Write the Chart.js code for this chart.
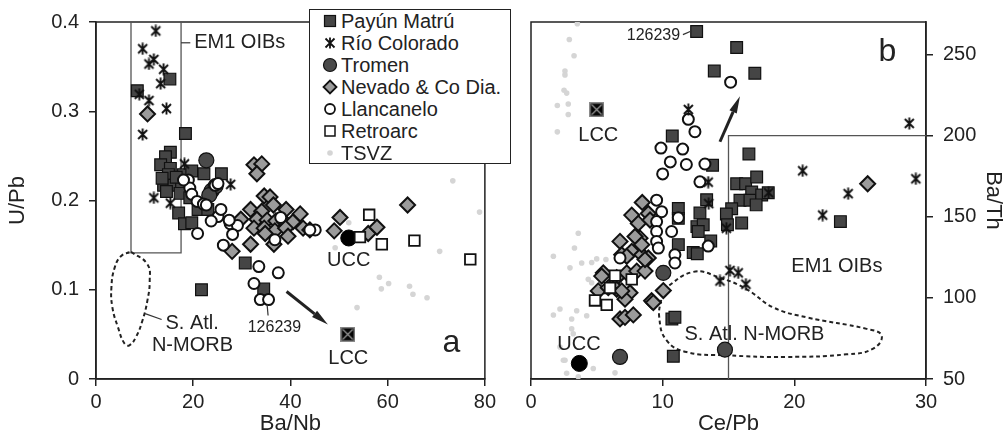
<!DOCTYPE html>
<html>
<head>
<meta charset="utf-8">
<script src="https://cdn.jsdelivr.net/npm/chart.js@4.4.0/dist/chart.umd.min.js"></script>
<style>
  body { margin: 0; background: #fff; width: 1006px; height: 443px; overflow: hidden; position: relative;
         font-family: 'Liberation Sans', Arial, Helvetica, sans-serif; color: #222; }
  #chartA { position: absolute; left: 0; top: 0; }
  #chartB { position: absolute; left: 500px; top: 0; }
  #legend { position: absolute; left: 309px; top: 9px; width: 200px; height: 153px;
            border: 1.5px solid #222; background: #fff; }
  #legend .row { display: flex; align-items: center; height: 22px; font-size: 20px; padding-left: 12px; }
  #legend svg { width: 16px; height: 16px; margin-right: 3px; flex: none; }
</style>
</head>
<body>
<canvas id="chartA" width="500" height="443"></canvas>
<canvas id="chartB" width="506" height="443"></canvas>
<div id="legend">
  <div class="row"><svg viewBox="0 0 16 16"><rect x="2.5" y="2.5" width="11" height="11" fill="#454545" stroke="#111" stroke-width="1.2"/></svg>Payún Matrú</div>
  <div class="row"><svg viewBox="0 0 16 16"><path d="M3.5 3.5L12.5 12.5M12.5 3.5L3.5 12.5M8 2.5L8 13.5" stroke="#111" stroke-width="1.8"/></svg>Río Colorado</div>
  <div class="row"><svg viewBox="0 0 16 16"><circle cx="8" cy="8" r="6.5" fill="#4a4a4a" stroke="#111" stroke-width="1.2"/></svg>Tromen</div>
  <div class="row"><svg viewBox="0 0 16 16"><path d="M8 1.5L14.5 8L8 14.5L1.5 8Z" fill="#9b9b9b" stroke="#111" stroke-width="1.8"/></svg>Nevado &amp; Co Dia.</div>
  <div class="row"><svg viewBox="0 0 16 16"><circle cx="8" cy="8" r="5" fill="#fff" stroke="#111" stroke-width="1.8"/></svg>Llancanelo</div>
  <div class="row"><svg viewBox="0 0 16 16"><rect x="3" y="3" width="10" height="10" fill="#fff" stroke="#111" stroke-width="1.5"/></svg>Retroarc</div>
  <div class="row"><svg viewBox="0 0 16 16"><circle cx="8" cy="8" r="2.8" fill="#d5d5d5"/></svg>TSVZ</div>
</div>
<script>
const FONT = "'Liberation Sans', Arial, Helvetica, sans-serif";
Chart.defaults.font.family = FONT;
Chart.defaults.color = '#222';

// ---- panel a: Ba/Nb (x) vs U/Pb (y)
const payunA = [[8.5,0.323],[15.2,0.336],[18.4,0.275],[15.3,0.254],[14.3,0.249],[13.3,0.240],[15.3,0.236],
  [14.9,0.229],[18.0,0.229],[19.7,0.233],[13.9,0.217],[16.0,0.217],[17.6,0.217],[22.2,0.230],[25.8,0.230],
  [13.6,0.225],[17.3,0.208],[19.3,0.203],[21.0,0.190],[23.0,0.190],[17.0,0.186],[18.2,0.174],[19.7,0.175],
  [14.5,0.210],[16.5,0.226],[30.7,0.130],[34.5,0.101],[21.7,0.100]];
const rioA = [[12.3,0.390],[9.6,0.370],[11.9,0.358],[10.9,0.353],[13.9,0.347],[13.3,0.331],[8.9,0.319],
  [10.9,0.312],[14.5,0.303],[9.6,0.274],[18.2,0.241],[27.7,0.218],[11.9,0.203],[15.3,0.197]];
const tromenA = [[22.7,0.245],[23.8,0.211],[24.6,0.216],[23.3,0.206]];
const nevadoA = [[10.6,0.297],[32.5,0.240],[34.1,0.241],[33.1,0.230],[34.6,0.205],[35.8,0.204],[31.8,0.190],
  [34.1,0.188],[36.5,0.195],[39.1,0.190],[42.0,0.185],[33.1,0.179],[35.2,0.178],[37.0,0.177],[38.8,0.176],
  [40.5,0.176],[32.5,0.169],[34.6,0.169],[36.8,0.166],[39.0,0.169],[42.6,0.169],[34.8,0.163],[39.5,0.160],
  [31.8,0.151],[36.6,0.151],[28.0,0.143],[29.8,0.179],[50.2,0.181],[49.0,0.166],[56.0,0.163],[57.8,0.170],
  [64.1,0.195],[44.0,0.167]];
const llancaA = [[19.0,0.223],[19.3,0.214],[19.7,0.207],[20.8,0.199],[22.1,0.196],[24.5,0.217],[25.1,0.219],
  [25.1,0.182],[23.7,0.177],[25.7,0.190],[27.6,0.174],[29.1,0.172],[28.1,0.162],[20.9,0.163],[26.2,0.150],
  [33.5,0.126],[32.5,0.107],[37.5,0.119],[33.8,0.089],[35.5,0.089],[38.0,0.181],[36.8,0.156],[45.1,0.167],
  [44.0,0.167],[18.0,0.223],[22.7,0.195],[27.4,0.178]];
const retroA = [[56.2,0.184],[54.3,0.159],[58.8,0.151],[65.5,0.155],[77.0,0.134]];
const tsvzA = [[73.4,0.222],[78.9,0.187],[70.7,0.143],[58.3,0.114],[60.2,0.107],[58.7,0.101],[64.5,0.104],
  [65.2,0.095],[68.1,0.091],[53.7,0.080],[52.0,0.175],[49.2,0.147]];
const uccA = [52.0, 0.158];
const lccA = [51.8, 0.050];
const em1BoxA = [[7.2,0.4],[7.2,0.1414],[17.5,0.1414],[17.5,0.4]];
const morbA = [[7.21,0.1426],[10.57,0.1286],[11.05,0.110],[10.57,0.0878],[9.56,0.0656],[8.22,0.047],
  [6.87,0.0378],[5.86,0.0397],[4.51,0.0581],[3.37,0.0803],[3.17,0.1026],[3.84,0.1248],[5.19,0.1378],[7.21,0.1426]];

// ---- panel b: Ce/Pb (x) vs Ba/Th (y)
const payunB = [[12.58,264.2],[15.62,254.3],[13.92,239.8],[17.0,238.4],[10.73,199.8],[13.79,181.7],[16.55,188.6],
  [15.62,170.3],[16.3,170.3],[17.14,174.5],[16.76,165.3],[15.87,160.2],[16.63,160.2],[17.52,163.4],[17.1,157.3],
  [15.24,154.9],[14.84,151.7],[14.92,145.0],[16.0,146.1],[23.5,147.0],[13.34,160.5],[12.83,152.3],[11.19,155.1],
  [11.19,149.0],[12.6,143.9],[13.08,145.0],[11.19,132.8],[13.65,135.0],[12.32,128.0],[12.63,127.2],[12.7,140.9],
  [10.7,87.0],[10.93,88.0],[10.81,64.0],[18.02,164.8]];
const rioB = [[11.95,216.1],[28.73,207.5],[20.63,178.3],[29.23,173.4],[24.09,164.2],[22.15,151.0],[18.05,164.8],
  [13.46,171.3],[13.5,158.1],[14.84,142.9],[14.35,110.4],[15.11,116.9],[15.74,115.4],[16.32,108.4]];
const tromenB = [[10.05,115.4],[6.76,63.6],[14.73,68.1]];
const nevadoB = [[8.45,158.8],[7.65,151.0],[8.15,145.9],[8.28,136.8],[6.76,134.8],[8.91,152.0],[9.04,148.0],
  [7.65,128.7],[8.41,126.6],[8.91,124.6],[6.89,126.6],[7.27,125.6],[5.49,115.4],[6.51,112.4],[7.27,115.4],
  [8.03,116.5],[8.66,116.5],[5.11,104.3],[6.51,105.3],[7.52,103.2],[7.14,99.2],[5.87,106.3],[9.16,98.2],
  [9.29,97.1],[10.05,104.5],[6.76,87.0],[7.14,88.0],[7.77,89.5],[7.90,137.8],[8.41,132.8],[8.66,123.6],
  [25.57,170.3],[5.37,113.4],[6.89,104.3]];
const llancaB = [[15.16,232.9],[11.95,210.0],[12.45,202.4],[9.87,192.3],[11.52,191.7],[10.58,183.8],[11.8,182.2],
  [13.21,182.5],[10.0,176.4],[12.83,171.5],[9.54,160.2],[9.92,153.1],[9.54,147.0],[9.54,140.9],[9.54,134.8],
  [9.67,130.7],[10.68,140.9],[11.19,149.4],[10.93,126.6],[10.93,121.5],[13.46,131.9],[6.76,124.6]];
const retroB = [[4.86,98.4],[5.75,95.7],[6.0,106.1],[6.38,113.7],[7.65,111.4]];
const tsvzB = [[3.52,268.9],[2.91,259.2],[3.27,249.2],[2.58,239.8],[2.58,237.4],[2.51,227.9],[2.71,226.2],
  [2.0,218.5],[2.83,219.5],[2.83,213.0],[2.0,202.3],[3.59,139.8],[3.3,130.7],[1.70,125.6],[2.96,118.5],
  [3.85,121.5],[4.61,121.8],[4.99,124.0],[5.69,123.6],[4.35,111.4],[4.61,109.3],[2.2,93.1],[3.47,92.1],
  [1.7,89.4],[3.09,87.0],[4.23,89.0],[3.09,80.9],[3.21,77.9],[2.2,69.7],[2.46,61.6],[2.71,53.5],[3.59,51.4],
  [6.38,53.8],[4.73,56.5],[2.58,61.6]];
const uccB = [3.67, 59.6];
const lccB = [4.99, 216.0];
const em1BoxB = [[15,50],[15,200],[30,200]];
const morbB = [[10.05,105.3],[12.32,116.0],[14.35,112.4],[16.38,105.3],[18.4,94.1],[20.93,88.0],[25.49,80.9],
  [26.63,76.8],[25.99,68.7],[23.97,65.2],[19.42,63.6],[14.86,64.6],[11.82,66.6],[10.3,73.8],[9.74,88.0],
  [9.92,100.2],[10.05,105.3]];

const pts = a => a.map(([x, y]) => ({x, y}));

// custom markers
function makeStar() {
  const c = document.createElement('canvas');
  c.width = c.height = 13;
  const g = c.getContext('2d');
  g.strokeStyle = '#111'; g.lineWidth = 1.9;
  g.beginPath();
  g.moveTo(2, 2); g.lineTo(11, 11);
  g.moveTo(11, 2); g.lineTo(2, 11);
  g.moveTo(6.5, 0.5); g.lineTo(6.5, 12.5);
  g.stroke();
  return c;
}
function makeLcc() {
  const c = document.createElement('canvas');
  c.width = c.height = 15;
  const g = c.getContext('2d');
  g.fillStyle = '#8a8a8a'; g.fillRect(0, 0, 15, 15);
  g.fillStyle = '#050505'; g.fillRect(1.5, 1.5, 12, 12);
  g.strokeStyle = '#9a9a9a'; g.lineWidth = 1.2;
  g.beginPath(); g.moveTo(2.5, 2.5); g.lineTo(12.5, 12.5); g.moveTo(12.5, 2.5); g.lineTo(2.5, 12.5); g.stroke();
  return c;
}
const star = makeStar();
const lccMark = makeLcc();

function markerSets(d) {
  return [
    {label: 'Río Colorado', data: pts(d.rio), pointStyle: star, pointRadius: 7},
    {label: 'LCC', data: pts([d.lcc]), pointStyle: lccMark, pointRadius: 8},
    {label: 'Retroarc', data: pts(d.retro), pointStyle: 'rect', pointRadius: 7.5,
     backgroundColor: '#fff', borderColor: '#111', borderWidth: 1.8},
    {label: 'Llancanelo', data: pts(d.llanca), pointStyle: 'circle', pointRadius: 5.5,
     backgroundColor: '#fff', borderColor: '#111', borderWidth: 2},
    {label: 'Tromen', data: pts(d.tromen), pointStyle: 'circle', pointRadius: 7.5,
     backgroundColor: '#4a4a4a', borderColor: '#111', borderWidth: 1.2},
    {label: 'UCC', data: pts([d.ucc]), pointStyle: 'circle', pointRadius: 8,
     backgroundColor: '#000', borderColor: '#000', borderWidth: 1},
    {label: 'Payún Matrú', data: pts(d.payun), pointStyle: 'rect', pointRadius: 8.3,
     backgroundColor: '#454545', borderColor: '#111', borderWidth: 1.2},
    {label: 'Nevado & Co Dia.', data: pts(d.nevado), pointStyle: 'rectRot', pointRadius: 7.5,
     backgroundColor: '#9b9b9b', borderColor: '#111', borderWidth: 2},
    {label: 'TSVZ', data: pts(d.tsvz), pointStyle: 'circle', pointRadius: 2.8,
     backgroundColor: '#d5d5d5', borderWidth: 0},
    {label: 'S. Atl. N-MORB', data: pts(d.morb), showLine: true, pointRadius: 0, tension: 0.45,
     borderColor: '#222', borderWidth: 2, borderDash: [4, 3]},
    {label: 'EM1 OIBs', data: pts(d.box), showLine: true, pointRadius: 0, tension: 0,
     borderColor: '#555', borderWidth: 1.3}
  ];
}

function axis(o) {
  const horiz = o.position === 'bottom';
  return {
    type: 'linear', position: o.position, min: o.min, max: o.max,
    afterFit: s => { if (horiz) s.height = o.size; else s.width = o.size; },
    ticks: {stepSize: o.step, includeBounds: false, font: {size: 20}, color: '#222',
            padding: horiz ? 4 : 10, maxRotation: 0},
    grid: {drawOnChartArea: false, drawTicks: true, tickLength: 7, color: '#222', lineWidth: 1.5},
    border: {display: true, color: '#222', width: 1.5},
    title: {display: true, text: o.title, font: {size: 22}, color: '#222', padding: o.titlePad}
  };
}

function notesPlugin(n) {
  return {
    id: 'notes',
    beforeDatasetsDraw(chart) {
      const {ctx, chartArea: a} = chart;
      ctx.save();
      ctx.strokeStyle = '#222'; ctx.lineWidth = 1.5;
      ctx.strokeRect(a.left, a.top, a.right - a.left, a.bottom - a.top);
      ctx.restore();
    },
    afterDatasetsDraw(chart) {
      const {ctx, scales: {x, y}} = chart;
      const X = v => x.getPixelForValue(v), Y = v => y.getPixelForValue(v);
      ctx.save();
      ctx.strokeStyle = '#333'; ctx.fillStyle = '#222'; ctx.lineWidth = 1.2;
      n.leaders.forEach(([p, q]) => {
        ctx.beginPath(); ctx.moveTo(X(p[0]), Y(p[1])); ctx.lineTo(X(q[0]), Y(q[1])); ctx.stroke();
      });
      n.arrows.forEach(([p, q]) => {
        const x1 = X(p[0]), y1 = Y(p[1]), x2 = X(q[0]), y2 = Y(q[1]);
        const ang = Math.atan2(y2 - y1, x2 - x1), len = 17, hw = 4;
        const bx = x2 - len * Math.cos(ang), by = y2 - len * Math.sin(ang);
        ctx.strokeStyle = '#222'; ctx.lineWidth = 3;
        ctx.beginPath(); ctx.moveTo(x1, y1); ctx.lineTo(bx, by); ctx.stroke();
        ctx.beginPath(); ctx.moveTo(x2, y2);
        ctx.lineTo(bx + hw * Math.sin(ang), by - hw * Math.cos(ang));
        ctx.lineTo(bx - hw * Math.sin(ang), by + hw * Math.cos(ang));
        ctx.closePath(); ctx.fill();
      });
      ctx.textBaseline = 'middle';
      n.texts.forEach(t => {
        ctx.font = (t.size || 20) + 'px ' + FONT;
        ctx.textAlign = t.align || 'center';
        ctx.fillText(t.text, X(t.x), Y(t.y));
      });
      ctx.restore();
    }
  };
}

const notesA = {
  texts: [
    {text: 'EM1 OIBs', x: 20.2, y: 0.3767, align: 'left'},
    {text: 'S. Atl.', x: 14.3, y: 0.0622, align: 'left'},
    {text: 'N-MORB', x: 11.5, y: 0.0378, align: 'left'},
    {text: '126239', x: 36.7, y: 0.0578, size: 16},
    {text: 'UCC', x: 52.0, y: 0.1333},
    {text: 'LCC', x: 51.9, y: 0.0233},
    {text: 'a', x: 73.1, y: 0.040, size: 32}
  ],
  leaders: [
    [[17.5, 0.3767], [19.4, 0.3767]],
    [[10.1, 0.0733], [13.5, 0.0667]],
    [[35.2, 0.0833], [35.4, 0.0711]]
  ],
  arrows: [[[39.2, 0.098], [47.7, 0.061]]]
};
const notesB = {
  texts: [
    {text: 'EM1 OIBs', x: 23.23, y: 119.5},
    {text: 'S. Atl. N-MORB', x: 16.97, y: 77.4},
    {text: 'UCC', x: 3.64, y: 71.3},
    {text: 'LCC', x: 5.11, y: 200.2},
    {text: '126239', x: 9.30, y: 261.8, size: 16},
    {text: 'b', x: 27.07, y: 251.5, size: 32}
  ],
  leaders: [[[11.54, 262.2], [12.22, 264.6]]],
  arrows: [[[14.35, 196.2], [15.87, 224.2]]]
};

const baseOpts = {
  responsive: false, animation: false, events: [],
  plugins: {legend: {display: false}, tooltip: {enabled: false}}
};

new Chart(document.getElementById('chartA'), {
  type: 'scatter',
  data: {datasets: markerSets({payun: payunA, rio: rioA, tromen: tromenA, nevado: nevadoA, llanca: llancaA,
    retro: retroA, tsvz: tsvzA, ucc: uccA, lcc: lccA, morb: morbA, box: em1BoxA})},
  options: Object.assign({}, baseOpts, {
    layout: {padding: {top: 19, right: 8, left: 0, bottom: 0}},
    scales: {
      x: axis({position: 'bottom', min: 0, max: 80, step: 20, size: 64, title: 'Ba/Nb', titlePad: {top: 0, bottom: 6}}),
      y: axis({position: 'left', min: 0, max: 0.4, step: 0.1, size: 96, title: 'U/Pb', titlePad: {top: 5, bottom: 0}})
    }
  }),
  plugins: [notesPlugin(notesA)]
});

new Chart(document.getElementById('chartB'), {
  type: 'scatter',
  data: {datasets: markerSets({payun: payunB, rio: rioB, tromen: tromenB, nevado: nevadoB, llanca: llancaB,
    retro: retroB, tsvz: tsvzB, ucc: uccB, lcc: lccB, morb: morbB, box: em1BoxB})},
  options: Object.assign({}, baseOpts, {
    layout: {padding: {top: 19, right: 0, left: 31, bottom: 0}},
    scales: {
      x: axis({position: 'bottom', min: 0, max: 30, step: 10, size: 64, title: 'Ce/Pb', titlePad: {top: 0, bottom: 6}}),
      y: axis({position: 'right', min: 50, max: 270, step: 50, size: 80, title: 'Ba/Th', titlePad: {top: 0, bottom: 0}})
    }
  }),
  plugins: [notesPlugin(notesB)]
});
</script>
</body>
</html>
